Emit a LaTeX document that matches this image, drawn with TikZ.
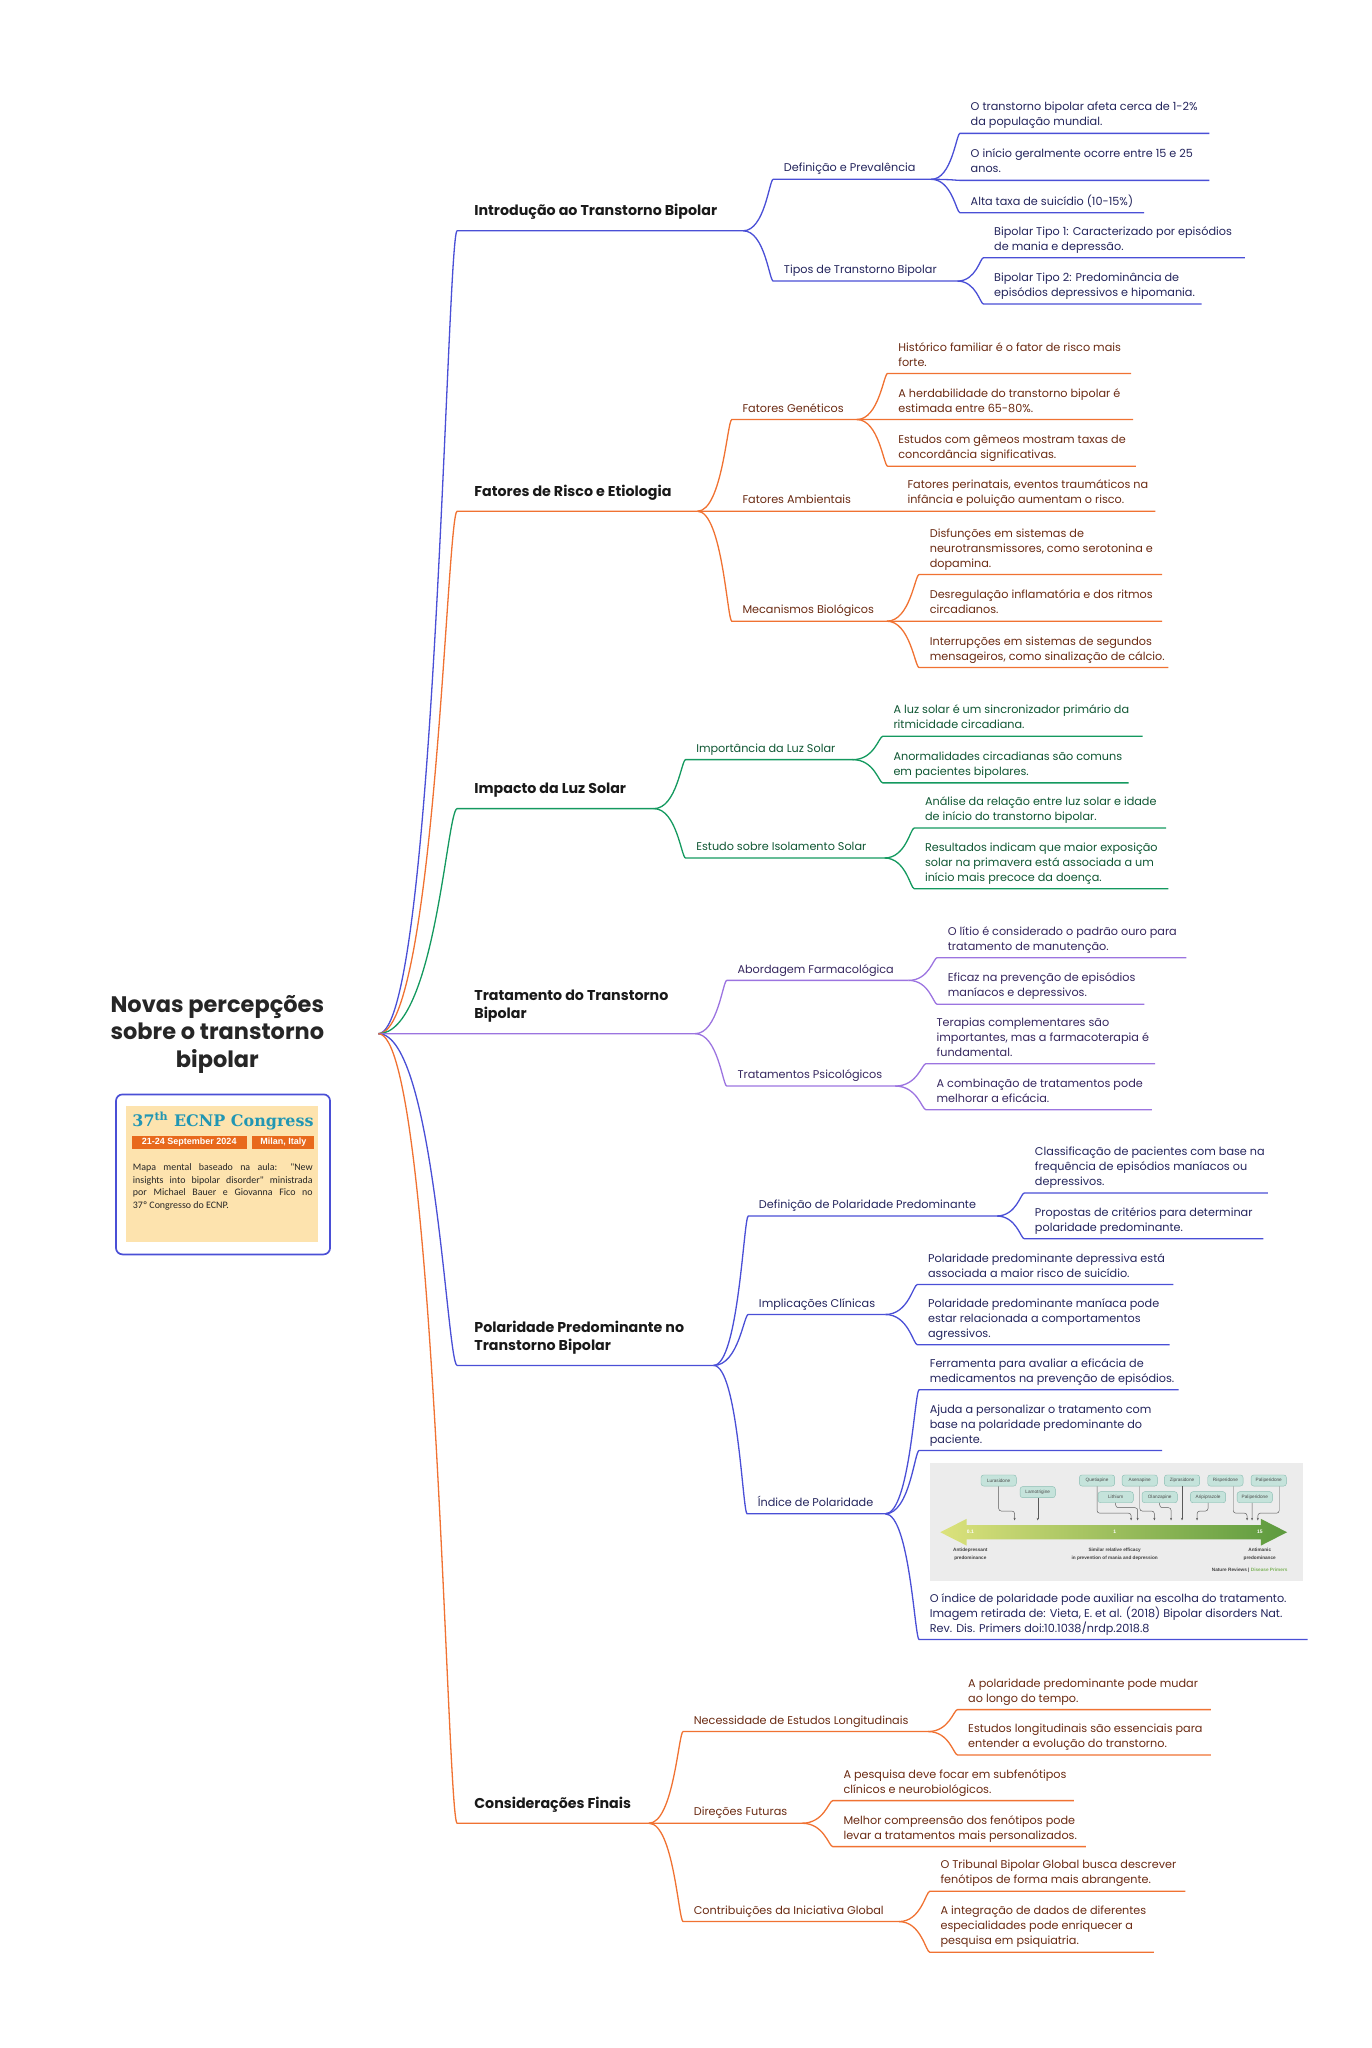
\documentclass[tikz,border=0pt]{standalone}
\usepackage{fontspec}
\setmainfont{Poppins}
\newfontfamily\ecnpserif{DejaVu Serif}
\newfontfamily\ecnpsans{Liberation Sans}
\newfontfamily\notefont{Carlito}
\usepackage{xcolor}
\usetikzlibrary{arrows.meta,calc}
\definecolor{lineblue}{HTML}{4A4FD6}
\definecolor{txtblue}{HTML}{23245C}
\definecolor{lineorange}{HTML}{F07232}
\definecolor{txtorange}{HTML}{6A2A12}
\definecolor{linegreen}{HTML}{14995F}
\definecolor{txtgreen}{HTML}{0F5633}
\definecolor{linepurple}{HTML}{9C74E0}
\definecolor{txtpurple}{HTML}{35265E}
\definecolor{paleorange}{HTML}{FDE3AE}
\definecolor{ecnpteal}{HTML}{2196B3}
\definecolor{ecnporange}{HTML}{E8691C}
\definecolor{figgray}{HTML}{ECECEC}
\definecolor{druggreen}{HTML}{C5E3DB}
\definecolor{drugborder}{HTML}{8BBDB3}
\definecolor{arrowleft}{HTML}{DCE27C}
\definecolor{arrowright}{HTML}{5C9A3E}
\definecolor{naturegreen}{HTML}{7DB35A}
\newcommand{\mmleaf}{\fontsize{8.6}{11.5}\selectfont}
\newcommand{\mmtopic}{\fontsize{10.9}{13.8}\selectfont\bfseries}
\newcommand{\mmtitle}{\fontsize{17.2}{21.3}\selectfont\bfseries}
\tikzset{
  curvy/.style={
    to path={.. controls ($(\tikztostart)!0.72!(\tikztostart -| \tikztotarget)$)
      and ($(\tikztotarget)!0.13!(\tikztotarget -| \tikztostart)$) .. (\tikztotarget)}
  },
  topic/.style={
    anchor=south west,
    align=left,
    inner xsep=13pt,
    inner ysep=7pt,
    font=\mmtopic,
    text=black!90,
    execute at end node=\strut
  },
  leaf/.style={
    anchor=south west,
    align=left,
    inner xsep=8pt,
    inner ysep=2pt,
    font=\mmleaf,
    execute at end node=\strut
  },
  leafb/.style={leaf, text=txtblue},
  leafo/.style={leaf, text=txtorange},
  leafg/.style={leaf, text=txtgreen},
  leafp/.style={leaf, text=txtpurple},
  bluebranch/.style={draw=lineblue, line width=1pt},
  orangebranch/.style={draw=lineorange, line width=1pt},
  greenbranch/.style={draw=linegreen, line width=1pt},
  purplebranch/.style={draw=linepurple, line width=1pt},
  titletext/.style={align=center, font=\mmtitle, text=black!85, inner sep=0pt},
  ecnpframe/.style={
    rectangle,
    rounded corners=5pt,
    draw=lineblue,
    line width=1.3pt,
    fill=white,
    minimum width=163.9pt,
    minimum height=122.5pt
  },
  ecnpfill/.style={rectangle, fill=paleorange, minimum width=147.3pt, minimum height=104pt},
  datebar/.style={
    rectangle,
    fill=ecnporange,
    text=white,
    minimum height=9.7pt,
    inner sep=0pt,
    font=\ecnpsans\bfseries\fontsize{6.9}{7}\selectfont
  },
  druglab/.style={
    rectangle,
    rounded corners=2pt,
    draw=drugborder,
    fill=druggreen,
    line width=0.3pt,
    minimum width=27pt,
    minimum height=8.5pt,
    inner sep=0.8pt,
    text=black!70,
    font=\ecnpsans\fontsize{3.6}{4}\selectfont
  },
  drugarrow/.style={-{Stealth[length=2pt,width=1.6pt]}, line width=0.35pt, black!65, rounded corners=2pt},
  figlab/.style={align=center, inner sep=0pt, text=black!75, font=\ecnpsans\bfseries\fontsize{3.6}{5.6}\selectfont}
}

\begin{document}
\begin{tikzpicture}[x=1pt, y=-1pt]
\useasboundingbox (0,0) rectangle (1050,1568);

% centro do mapa
\coordinate (root) at (289.7,791.4);
\node[titletext] (titulo) at (166.4,792) {Novas percepções\\sobre o transtorno\\bipolar};
\node[ecnpframe] (ecnp) at (170.75,899.15) {};
\node[ecnpfill] (ecnpin) at (170.15,899) {};
\node[text=ecnpteal, inner sep=0pt, font=\ecnpserif\bfseries\fontsize{12.2}{13}\selectfont] (congresso) at (170.7,858.3) {37\textsuperscript{th} ECNP Congress};
\node[datebar, minimum width=88.1pt] (datas) at (144.85,874.65) {21-24 September 2024};
\node[datebar, minimum width=47.4pt] (local) at (217,874.65) {Milan, Italy};
\node[anchor=north west, text width=137.6pt, align=justify, inner sep=0pt, text=black!85,
  font=\notefont\fontsize{7.6}{9.6}\selectfont] (nota) at (101.6,891)
  {Mapa mental baseado na aula: "New\linebreak insights into bipolar disorder" ministrada\linebreak por Michael Bauer e Giovanna Fico no\linebreak 37º Congresso do ECNP.};

% 1 - introducao
\node[topic] (intro) at (350,176.7) {Introdução ao Transtorno Bipolar};
\node[leafb] (defprev) at (592,137.3) {Definição e Prevalência};
\node[leafb] (d1) at (735,102.1) {O transtorno bipolar afeta cerca de 1-2\%\\da população mundial.};
\node[leafb] (d2) at (735,138.1) {O início geralmente ocorre entre 15 e 25\\anos.};
\node[leafb] (d3) at (735,162.9) {Alta taxa de suicídio (10-15\%)};
\node[leafb] (tipos) at (592,215.2) {Tipos de Transtorno Bipolar};
\node[leafb] (t1) at (753,197.3) {Bipolar Tipo 1: Caracterizado por episódios\\de mania e depressão.};
\node[leafb] (t2) at (753,232.8) {Bipolar Tipo 2: Predominância de\\episódios depressivos e hipomania.};
\draw[bluebranch] (root) to[curvy] (intro.south west) -- ++(219,0) coordinate (intro-e);
\draw[bluebranch] (intro-e) to[curvy] (defprev.south west) -- ++(121,0) coordinate (defprev-e);
\draw[bluebranch] (defprev-e) to[curvy] (d1.south west) -- ++(191,0);
\draw[bluebranch] (defprev-e) to[curvy] (d2.south west) -- ++(191,0);
\draw[bluebranch] (defprev-e) to[curvy] (d3.south west) -- ++(141,0);
\draw[bluebranch] (intro-e) to[curvy] (tipos.south west) -- ++(141,0) coordinate (tipos-e);
\draw[bluebranch] (tipos-e) to[curvy] (t1.south west) -- ++(200,0);
\draw[bluebranch] (tipos-e) to[curvy] (t2.south west) -- ++(167,0);

% 2 - fatores de risco
\node[topic] (fatores) at (350,391.4) {Fatores de Risco e Etiologia};
\node[leafo] (genet) at (560.3,321.2) {Fatores Genéticos};
\node[leafo] (g1) at (679.6,285.9) {Histórico familiar é o fator de risco mais\\forte.};
\node[leafo] (g2) at (679.6,321.2) {A herdabilidade do transtorno bipolar é\\estimada entre 65-80\%.};
\node[leafo] (g3) at (679.6,356.9) {Estudos com gêmeos mostram taxas de\\concordância significativas.};
\node[leafo] (ambient) at (560.3,391.4) {Fatores Ambientais};
\node[leafo] (a1) at (686.6,391.4) {Fatores perinatais, eventos traumáticos na\\infância e poluição aumentam o risco.};
\node[leafo] (mecan) at (560.3,475.6) {Mecanismos Biológicos};
\node[leafo] (m1) at (703.7,439.9) {Disfunções em sistemas de\\neurotransmissores, como serotonina e\\dopamina.};
\node[leafo] (m2) at (703.7,475.6) {Desregulação inflamatória e dos ritmos\\circadianos.};
\node[leafo] (m3) at (703.7,511.1) {Interrupções em sistemas de segundos\\mensageiros, como sinalização de cálcio.};
\draw[orangebranch] (root) to[curvy] (fatores.south west) -- ++(184,0) coordinate (fatores-e);
\draw[orangebranch] (fatores-e) to[curvy] (genet.south west) -- ++(95.7,0) coordinate (genet-e);
\draw[orangebranch] (genet-e) to[curvy] (g1.south west) -- ++(186.4,0);
\draw[orangebranch] (genet-e) to[curvy] (g2.south west) -- ++(188,0);
\draw[orangebranch] (genet-e) to[curvy] (g3.south west) -- ++(190,0);
\draw[orangebranch] (fatores-e) to[curvy] (ambient.south west) -- ++(112,0) coordinate (ambient-e);
\draw[orangebranch] (ambient-e) to[curvy] (a1.south west) -- ++(198,0);
\draw[orangebranch] (fatores-e) to[curvy] (mecan.south west) -- ++(118.7,0) coordinate (mecan-e);
\draw[orangebranch] (mecan-e) to[curvy] (m1.south west) -- ++(186,0);
\draw[orangebranch] (mecan-e) to[curvy] (m2.south west) -- ++(186,0);
\draw[orangebranch] (mecan-e) to[curvy] (m3.south west) -- ++(190.8,0);

% 3 - luz solar
\node[topic] (impacto) at (350,619.1) {Impacto da Luz Solar};
\node[leafg] (luzimp) at (524.9,581.6) {Importância da Luz Solar};
\node[leafg] (i1) at (675.9,563.7) {A luz solar é um sincronizador primário da\\ritmicidade circadiana.};
\node[leafg] (i2) at (675.9,599.4) {Anormalidades circadianas são comuns\\em pacientes bipolares.};
\node[leafg] (isol) at (524.9,656.9) {Estudo sobre Isolamento Solar};
\node[leafg] (e1) at (700,633.9) {Análise da relação entre luz solar e idade\\de início do transtorno bipolar.};
\node[leafg] (e2) at (700,680.4) {Resultados indicam que maior exposição\\solar na primavera está associada a um\\início mais precoce da doença.};
\draw[greenbranch] (root) to[curvy] (impacto.south west) -- ++(150.6,0) coordinate (impacto-e);
\draw[greenbranch] (impacto-e) to[curvy] (luzimp.south west) -- ++(128,0) coordinate (luzimp-e);
\draw[greenbranch] (luzimp-e) to[curvy] (i1.south west) -- ++(199,0);
\draw[greenbranch] (luzimp-e) to[curvy] (i2.south west) -- ++(188.2,0);
\draw[greenbranch] (impacto-e) to[curvy] (isol.south west) -- ++(152.3,0) coordinate (isol-e);
\draw[greenbranch] (isol-e) to[curvy] (e1.south west) -- ++(192.8,0);
\draw[greenbranch] (isol-e) to[curvy] (e2.south west) -- ++(194.6,0);

% 4 - tratamento
\node[topic] (trat) at (350,791.4) {Tratamento do Transtorno\\Bipolar};
\node[leafp] (farm) at (556.5,750.6) {Abordagem Farmacológica};
\node[leafp] (f1) at (717.5,733.2) {O lítio é considerado o padrão ouro para\\tratamento de manutenção.};
\node[leafp] (f2) at (717.5,768.9) {Eficaz na prevenção de episódios\\maníacos e depressivos.};
\node[leafp] (psico) at (556.5,831.5) {Tratamentos Psicológicos};
\node[leafp] (p1) at (708.9,814.4) {Terapias complementares são\\importantes, mas a farmacoterapia é\\fundamental.};
\node[leafp] (p2) at (708.9,849.6) {A combinação de tratamentos pode\\melhorar a eficácia.};
\draw[purplebranch] (root) to[curvy] (trat.south west) -- ++(182.2,0) coordinate (trat-e);
\draw[purplebranch] (trat-e) to[curvy] (farm.south west) -- ++(139.2,0) coordinate (farm-e);
\draw[purplebranch] (farm-e) to[curvy] (f1.south west) -- ++(190.9,0);
\draw[purplebranch] (farm-e) to[curvy] (f2.south west) -- ++(158.6,0);
\draw[purplebranch] (trat-e) to[curvy] (psico.south west) -- ++(128.9,0) coordinate (psico-e);
\draw[purplebranch] (psico-e) to[curvy] (p1.south west) -- ++(175.4,0);
\draw[purplebranch] (psico-e) to[curvy] (p2.south west) -- ++(173,0);

% 5 - polaridade predominante
\node[topic] (polar) at (350,1045.4) {Polaridade Predominante no\\Transtorno Bipolar};
\node[leafb] (defpol) at (572.9,931) {Definição de Polaridade Predominante};
\node[leafb] (dp1) at (784.2,913.4) {Classificação de pacientes com base na\\frequência de episódios maníacos ou\\depressivos.};
\node[leafb] (dp2) at (784.2,948.4) {Propostas de critérios para determinar\\polaridade predominante.};
\node[leafb] (implic) at (572.9,1006.4) {Implicações Clínicas};
\node[leafb] (ic1) at (702.4,983.4) {Polaridade predominante depressiva está\\associada a maior risco de suicídio.};
\node[leafb] (ic2) at (702.4,1029.6) {Polaridade predominante maníaca pode\\estar relacionada a comportamentos\\agressivos.};
\node[leafb] (indice) at (572,1159) {Índice de Polaridade};
\node[leafb] (x1) at (703.7,1064) {Ferramenta para avaliar a eficácia de\\medicamentos na prevenção de episódios.};
\node[leafb] (x2) at (703.7,1110.5) {Ajuda a personalizar o tratamento com\\base na polaridade predominante do\\paciente.};
\node[leafb] (x3) at (703.7,1255.3) {O índice de polaridade pode auxiliar na escolha do tratamento.\\Imagem retirada de: Vieta, E. et al. (2018) Bipolar disorders Nat.\\Rev. Dis. Primers doi:10.1038/nrdp.2018.8};
\draw[bluebranch] (root) to[curvy] (polar.south west) -- ++(196.3,0) coordinate (polar-e);
\draw[bluebranch] (polar-e) to[curvy] (defpol.south west) -- ++(190.1,0) coordinate (defpol-e);
\draw[bluebranch] (defpol-e) to[curvy] (dp1.south west) -- ++(186.5,0);
\draw[bluebranch] (defpol-e) to[curvy] (dp2.south west) -- ++(183.1,0);
\draw[bluebranch] (polar-e) to[curvy] (implic.south west) -- ++(104.9,0) coordinate (implic-e);
\draw[bluebranch] (implic-e) to[curvy] (ic1.south west) -- ++(196,0);
\draw[bluebranch] (implic-e) to[curvy] (ic2.south west) -- ++(193.1,0);
\draw[bluebranch] (polar-e) to[curvy] (indice.south west) -- ++(105.8,0) coordinate (indice-e);
\draw[bluebranch] (indice-e) to[curvy] (x1.south west) -- ++(198.7,0);
\draw[bluebranch] (indice-e) to[curvy] (x2.south west) -- ++(186,0);
\draw[bluebranch] (indice-e) to[curvy] (x3.south west) -- ++(297.5,0);

% figura do indice de polaridade
\fill[figgray] (711.7,1120.2) rectangle (997.7,1210.6);
\shade[left color=arrowleft, right color=arrowright] (719.9,1173.1) -- (740,1162.9) -- (740,1167.6)
  -- (965.4,1167.6) -- (965.4,1162.9) -- (985.4,1173.1) -- (965.4,1183.3) -- (965.4,1178.6)
  -- (740,1178.6) -- (740,1183.3) -- cycle;
\node[text=white, font=\ecnpsans\bfseries\fontsize{3.8}{4}\selectfont] (v01) at (742.9,1173.1) {0.1};
\node[text=white, font=\ecnpsans\bfseries\fontsize{3.8}{4}\selectfont] (v1) at (853.4,1173.1) {1};
\node[text=white, font=\ecnpsans\bfseries\fontsize{3.8}{4}\selectfont] (v15) at (964.5,1173.1) {15};
\node[druglab] (lur) at (764.6,1133.5) {Lurasidone};
\node[druglab] (lam) at (794.5,1142.4) {Lamotrigine};
\node[druglab] (que) at (839.9,1133.5) {Quetiapine};
\node[druglab] (lit) at (854.2,1146.3) {Lithium};
\node[druglab] (ase) at (872.6,1133.5) {Asenapine};
\node[druglab] (ola) at (887.9,1146.3) {Olanzapine};
\node[druglab] (zip) at (905,1133.5) {Ziprasidone};
\node[druglab] (ari) at (924.9,1146.3) {Aripiprazole};
\node[druglab] (ris) at (938.2,1133.5) {Risperidone};
\node[druglab] (pal) at (971.4,1133.5) {Paliperidone};
\node[druglab] (palb) at (960.7,1146.3) {Paliperidone};
\coordinate (alur) at (776.8,1164.1);
\coordinate (alam) at (794.5,1164.1);
\coordinate (aque) at (866,1164.1);
\coordinate (alit) at (871,1164.1);
\coordinate (aase) at (883.8,1164.1);
\coordinate (aola) at (896.6,1164.1);
\coordinate (azip) at (905,1164.1);
\coordinate (aari) at (916.5,1164.1);
\coordinate (aris) at (954.8,1164.1);
\coordinate (apal) at (963,1164.1);
\coordinate (apalb) at (958.6,1164.1);
\draw[drugarrow] (lur.south) -- ++(0,19) -| (alur);
\draw[drugarrow] (lam.south) -- (alam);
\draw[drugarrow] (que.south) -- ++(0,20.6) -| (aque);
\draw[drugarrow] (lit.south) -- ++(0,3.6) -| (alit);
\draw[drugarrow] (ase.south) -- ++(0,19) -| (aase);
\draw[drugarrow] (ola.south) -- ++(0,3.6) -| (aola);
\draw[drugarrow] (zip.south) -- (azip);
\draw[drugarrow] (ari.south) -- ++(0,6.2) -| (aari);
\draw[drugarrow] ([xshift=6pt]ris.south) -- ++(0,20.6) -| (aris);
\draw[drugarrow] ([xshift=8pt]pal.south) -- ++(0,20.6) -| (apal);
\draw[drugarrow] ([xshift=-2pt]palb.south) -- (apalb);
\node[figlab] (antid) at (742.9,1189.9) {Antidepressant\\predominance};
\node[figlab] (simil) at (853.4,1189.9) {Similar relative efficacy\\in prevention of mania and depression};
\node[figlab] (antim) at (964.5,1189.9) {Antimanic\\predominance};
\node[figlab, anchor=east] (fonte) at (985.9,1201.9) {Nature Reviews | \textcolor{naturegreen}{Disease Primers}};

% 6 - consideracoes finais
\node[topic] (consid) at (350,1395.9) {Considerações Finais};
\node[leafo] (neces) at (523,1325.7) {Necessidade de Estudos Longitudinais};
\node[leafo] (n1) at (733.1,1308.9) {A polaridade predominante pode mudar\\ao longo do tempo.};
\node[leafo] (n2) at (733.1,1343.6) {Estudos longitudinais são essenciais para\\entender a evolução do transtorno.};
\node[leafo] (direc) at (523,1395.9) {Direções Futuras};
\node[leafo] (r1) at (637.6,1378.6) {A pesquisa deve focar em subfenótipos\\clínicos e neurobiológicos.};
\node[leafo] (r2) at (637.6,1413.8) {Melhor compreensão dos fenótipos pode\\levar a tratamentos mais personalizados.};
\node[leafo] (contrib) at (523,1471.2) {Contribuições da Iniciativa Global};
\node[leafo] (c1) at (711.9,1448) {O Tribunal Bipolar Global busca descrever\\fenótipos de forma mais abrangente.};
\node[leafo] (c2) at (711.9,1494.7) {A integração de dados de diferentes\\especialidades pode enriquecer a\\pesquisa em psiquiatria.};
\draw[orangebranch] (root) to[curvy] (consid.south west) -- ++(146.8,0) coordinate (consid-e);
\draw[orangebranch] (consid-e) to[curvy] (neces.south west) -- ++(187.6,0) coordinate (neces-e);
\draw[orangebranch] (neces-e) to[curvy] (n1.south west) -- ++(194,0);
\draw[orangebranch] (neces-e) to[curvy] (n2.south west) -- ++(194,0);
\draw[orangebranch] (consid-e) to[curvy] (direc.south west) -- ++(91,0) coordinate (direc-e);
\draw[orangebranch] (direc-e) to[curvy] (r1.south west) -- ++(184.6,0);
\draw[orangebranch] (direc-e) to[curvy] (r2.south west) -- ++(193.8,0);
\draw[orangebranch] (consid-e) to[curvy] (contrib.south west) -- ++(165.3,0) coordinate (contrib-e);
\draw[orangebranch] (contrib-e) to[curvy] (c1.south west) -- ++(195.7,0);
\draw[orangebranch] (contrib-e) to[curvy] (c2.south west) -- ++(171.6,0);
\end{tikzpicture}
\end{document}
